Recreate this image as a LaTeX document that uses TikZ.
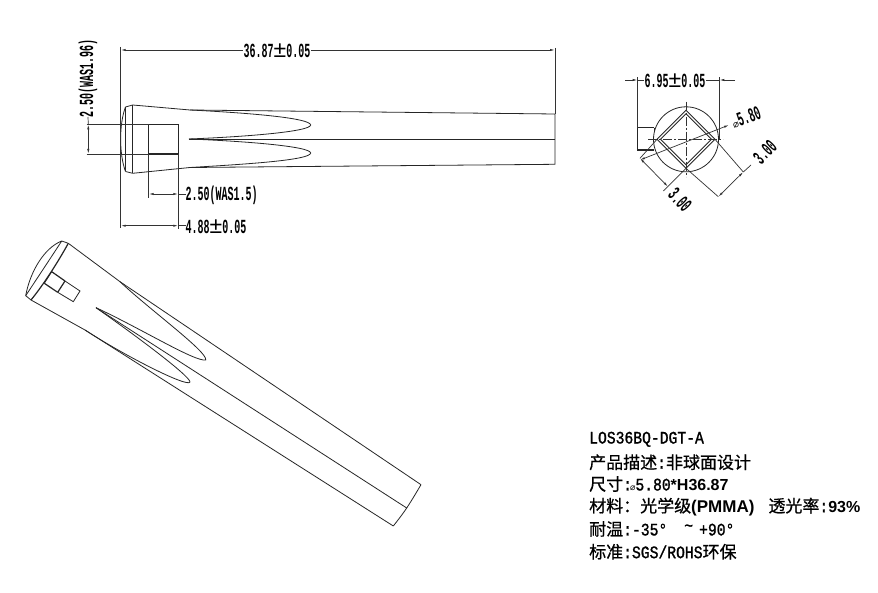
\documentclass[tikz,border=0pt]{standalone}
\usepackage{fontspec}
\usetikzlibrary{arrows.meta}
\newfontfamily\dimfont[FakeStretch=0.5]{Liberation Mono Bold}
\newfontfamily\monof[FakeStretch=0.84,FakeBold=1.2]{Liberation Mono}
\newfontfamily\arialb{Liberation Sans Bold}
\newfontfamily\arialr{Liberation Sans}
\newfontfamily\symf{DejaVu Sans}
\newfontfamily\cjk[FakeBold=0.7]{Noto Sans CJK SC}
\newcommand{\cj}[1]{{\cjk\fontsize{17}{17}\selectfont #1}}
\newcommand{\mn}[1]{{\monof\fontsize{17.5}{18}\selectfont #1}}
\newcommand{\ar}[1]{{\arialb\fontsize{16}{18}\selectfont #1}}
\newcommand{\pmsym}{{\arialr\fontsize{23}{23}\selectfont ±}}
\tikzset{
  part/.style={line width=0.8pt,black!85},
  thick part/.style={line width=1.2pt,black!85},
  dimline/.style={line width=0.7pt,black!80},
  dimarrow/.style={dimline,{Latex[length=5pt,width=2.2pt]}-{Latex[length=5pt,width=2.2pt]}},
  dimtext/.style={font=\dimfont\fontsize{20}{20}\selectfont,inner sep=0pt,text=black},
  note/.style={anchor=west,inner sep=0pt,text=black},
}
\begin{document}
\begin{tikzpicture}[x=1pt,y=-1pt]
\useasboundingbox (0,0) rectangle (878,593);
\fill[white] (0,0) rectangle (878,593);

% --- side view
\draw[part] (125.5,107) -- (132.7,105);
\draw[part] (125.5,171.5) -- (132.7,173.3);
\draw[part] (125.5,107) .. controls (119,124) and (119,154) .. (125.5,171.5);
\draw[part] (125.5,107) -- (125.5,171.5);
\draw[thick part] (132.7,105) -- (132.7,173.3);
\draw[part] (132.7,105) -- (190,110) -- (555,114) -- (555,164.3) -- (190,167.5) -- (132.7,173.3);
\draw[part] (189,139) -- (555,139);
\draw[part] (190,110) .. controls (250,113) and (310,118) .. (310.7,125) .. controls (310,132) and (240,137) .. (189,139);
\draw[part] (190,167.5) .. controls (250,164) and (310,160) .. (310.7,153) .. controls (310,146) and (240,141) .. (189,139);
\draw[thick part] (148.7,124.3) -- (178.3,124.3);
\draw[thick part] (148.7,154) -- (178.3,154);
\draw[part] (148.7,124.3) -- (148.7,154);
\draw[part] (178.3,124.3) -- (178.3,154);

% extension lines, side view
\draw[dimline] (120.7,47) -- (120.7,228);
\draw[dimline] (555,48) -- (555,114);
\draw[dimline] (86.5,124.3) -- (148.7,124.3);
\draw[dimline] (86.5,154) -- (148.7,154);
\draw[dimline] (148.7,154) -- (148.7,198);
\draw[dimline] (178.3,154) -- (178.3,229);

% dimensions, side view
\node[dimtext] (d3687) at (277,51) {36.87\pmsym 0.05};
\coordinate (dl) at (120.7,50);
\coordinate (dr) at (555,50);
\draw[dimline,{Latex[length=5pt,width=2.2pt]}-] (dl) -- (d3687.west |- dl);
\draw[dimline,{Latex[length=5pt,width=2.2pt]}-] (dr) -- (d3687.east |- dr);

\node[dimtext,rotate=90] (d250a) at (88,78) {2.50(WAS1.96)};
\coordinate (a1) at (88.3,124.3);
\coordinate (a2) at (88.3,154);
\draw[dimarrow] (a1) -- (a2);
\draw[dimline] (d250a.west |- 0,117) -- (a1);

\node[dimtext,anchor=west] (d250b) at (185.5,195) {2.50(WAS1.5)};
\coordinate (b1) at (148.7,194);
\coordinate (b2) at (178.3,194);
\draw[dimarrow] (b1) -- (b2);
\draw[dimline] (b2) -- (d250b.west |- b2);

\node[dimtext,anchor=west] (d488) at (185.5,226.5) {4.88\pmsym 0.05};
\coordinate (c1) at (120.7,225.7);
\coordinate (c2) at (178.3,225.7);
\draw[dimarrow] (c1) -- (c2);
\draw[dimline] (c2) -- (d488.west |- c2);

% --- end view
\coordinate (o) at (686,139.3);
\draw[part] (o) circle[radius=32.5];
\draw[part] (686,110.3) -- (715,139.3) -- (686,168.3) -- (657,139.3) -- cycle;
\draw[part] (686,113.8) -- (711.5,139.3) -- (686,164.8) -- (660.5,139.3) -- cycle;
\draw[dimline,dash pattern=on 9pt off 2pt on 2pt off 2pt] (648,139.3) -- (723,139.3);
\draw[dimline,dash pattern=on 9pt off 2pt on 2pt off 2pt] (686,101.7) -- (686,176.7);
\draw[thick part] (654.3,150) -- (637.7,150) -- (637.7,127.7) -- (654.3,127.7);
\draw[part] (654.3,127.7) -- (654.3,132);

\draw[dimline] (637.7,127.7) -- (637.7,77);
\draw[dimline] (719.3,139.3) -- (719.3,77);
\node[dimtext] (d695) at (675,81) {6.95\pmsym 0.05};
\coordinate (e0) at (625,80);
\coordinate (e1) at (637.7,80);
\coordinate (e2) at (719.3,80);
\coordinate (e3) at (735,80);
\draw[dimline,-{Latex[length=5pt,width=2.2pt]}] (e0) -- (e1);
\draw[dimline] (e1) -- (d695.west |- e1);
\draw[dimline,-{Latex[length=5pt,width=2.2pt]}] (e3) -- (e2);
\draw[dimline] (e2) -- (d695.east |- e2);

\node[dimtext,rotate=20] (d580) at (746,117.5) {{\symf\fontsize{10}{10}\selectfont ⌀}5.80};
\coordinate (f1) at (640,160);
\coordinate (f2) at (729,125);
\draw[dimarrow] (f1) -- (f2);

\node[dimtext,rotate=-47] (d300a) at (680,200) {3.00};
\coordinate (g1) at (640,158.3);
\coordinate (g2) at (668,186.7);
\draw[dimarrow] (g1) -- (g2);
\draw[dimline] (657,139.3) -- (g1);
\draw[dimline] (686,168.3) -- (663.3,191);

\node[dimtext,rotate=45] (d300b) at (765,152) {3.00};
\coordinate (h1) at (718.3,196.7);
\coordinate (h2) at (743.3,172);
\draw[dimarrow] (h1) -- (h2);
\draw[dimline] (686,168.3) -- (h1);
\draw[dimline] (715,139.3) -- (h2);
\draw[dimline] (h2) -- (751,165);

% --- perspective view
\draw[part] (61.7,241) .. controls (44,248) and (30,272) .. (25.7,295.7);
\draw[part] (61.7,241) .. controls (52,256) and (36,280) .. (25.7,295.7);
\draw[part] (61.7,241) -- (68.3,243.3);
\draw[part] (25.7,295.7) -- (31,300);
\draw[thick part] (68.3,243.3) .. controls (58,262) and (44,284) .. (31,300);
\draw[part] (68.3,243.3) -- (120,281.7) -- (421,484.7);
\draw[part] (31,300) -- (85,330) -- (393.3,526);
\draw[part] (96,307.7) -- (406.7,508);
\draw[part] (421,484.7) .. controls (416,493) and (412,500) .. (406.7,508) .. controls (402,515) and (398,520) .. (393.3,526);
\draw[part] (120,281.7) .. controls (150,310) and (208,352) .. (205.7,360) .. controls (195,362) and (140,328) .. (96,307.7);
\draw[part] (85,330) .. controls (125,356) and (188,388) .. (190,382) .. controls (190,376) and (135,335) .. (96,307.7);
\draw[thick part] (51.7,271.7) -- (65,281);
\draw[thick part] (44.3,283.3) -- (57.7,292.3);
\draw[part] (51.7,271.7) -- (44.3,283.3);
\draw[thick part] (65,281) -- (57.7,292.3);
\draw[part] (65,281) -- (80,291) -- (73.3,301.7) -- (57.7,292.3);

% --- notes
\node[note] (n1) at (589,439.3) {\mn{LOS36BQ-DGT-A}};
\node[note] (n2) at (589,462.3) {\cj{产品描述}\mn{:}\cj{非球面设计}};
\node[note] (n3) at (589,484) {\cj{尺寸}\mn{:}\hspace{-2pt}{\symf\fontsize{9}{10}\selectfont ⌀}\mn{5.80}\ar{*H36.87}};
\node[note] (n4) at (589,506.7) {\cj{材料：光学级}{\arialb\fontsize{17}{18}\selectfont (PMMA)}\hspace{14pt}\cj{透光率}\mn{:}\ar{93\%}};
\node[note] (n5) at (589,529) {\cj{耐温}\mn{:-35°}\hspace{17pt}\raisebox{4pt}{\mn{\char`\~}}\hspace{6pt}\mn{+90°}};
\node[note] (n6) at (589,551.7) {\cj{标准}\mn{:SGS/ROHS}\cj{环保}};
\end{tikzpicture}
\end{document}
